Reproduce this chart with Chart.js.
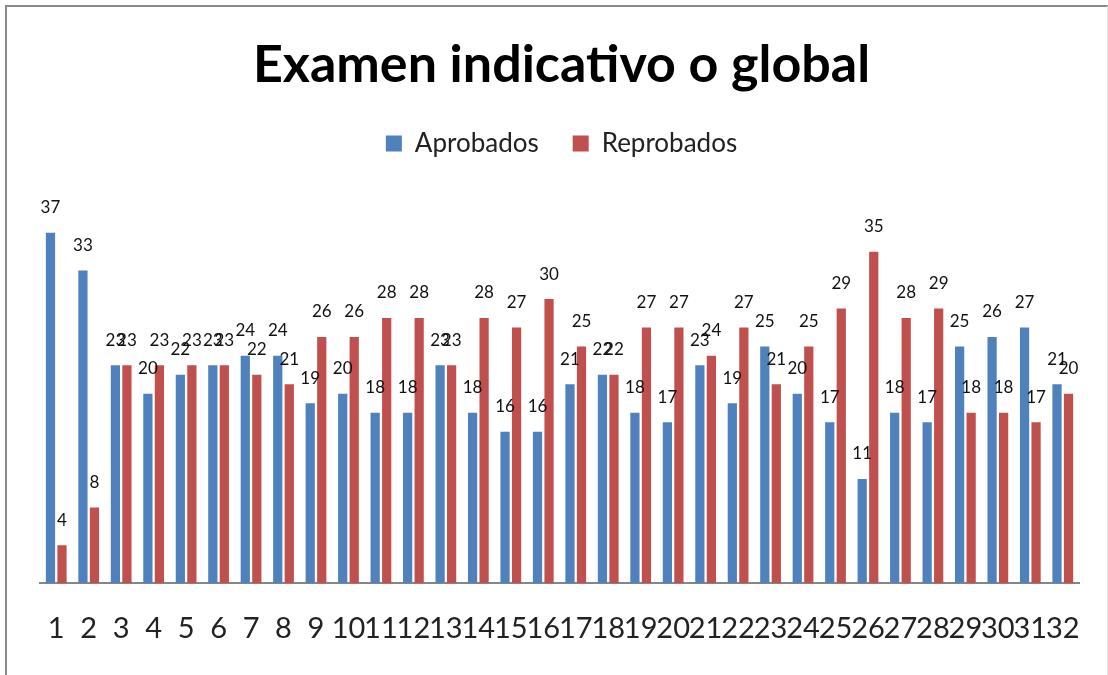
<!DOCTYPE html>
<html>
<head>
<meta charset="utf-8">
<script src="https://cdn.jsdelivr.net/npm/chart.js@4/dist/chart.umd.min.js"></script>
<style>
  body { margin: 0; background: #fff; }
  #marco { position: absolute; left: 5px; top: 5px; width: 1100px; height: 700px;
           border-left: 2px solid #8a8a8a; border-top: 2px solid #8a8a8a; border-right: 1px solid #e4e4e4; }
  canvas { position: absolute; left: 0; top: 0; }
</style>
</head>
<body>
<div id="marco"></div>
<canvas id="grafico" width="1108" height="675"></canvas>
<script>
const categorias = ['1','2','3','4','5','6','7','8','9','10','11','12','13','14','15','16',
                    '17','18','19','20','21','22','23','24','25','26','27','28','29','30','31','32'];
const aprobados  = [37,33,23,20,22,23,24,24,19,20,18,18,23,18,16,16,
                    21,22,18,17,23,19,25,20,17,11,18,17,25,26,27,21];
const reprobados = [4,8,23,23,23,23,22,21,26,26,28,28,23,28,27,30,
                    25,22,27,27,24,27,21,25,29,35,28,29,18,18,17,20];

// etiquetas de valor encima de cada barra
const etiquetas = {
    id: 'etiquetas',
    afterDatasetsDraw(chart) {
        const ctx = chart.ctx;
        ctx.save();
        ctx.font = '17px Lato';
        ctx.fillStyle = '#111';
        ctx.textAlign = 'center';
        ctx.textBaseline = 'middle';
        chart.data.datasets.forEach((ds, i) => {
            chart.getDatasetMeta(i).data.forEach((bar, j) => {
                ctx.fillText(ds.data[j], bar.x, bar.y - 25);
            });
        });
        ctx.restore();
    }
};

const ctx = document.getElementById('grafico').getContext('2d');
new Chart(ctx, {
    type: 'bar',
    data: {
        labels: categorias,
        datasets: [
            { label: 'Aprobados', data: aprobados, backgroundColor: '#4F81BD' },
            { label: 'Reprobados', data: reprobados, backgroundColor: '#C0504D' }
        ]
    },
    options: {
        responsive: false,
        animation: false,
        categoryPercentage: 0.71,
        barPercentage: 0.8,
        layout: { padding: { left: 40, right: 25, top: 0, bottom: 1 } },
        plugins: {
            title: {
                display: true,
                text: 'Examen indicativo o global',
                color: '#000',
                font: { family: 'Lato', size: 52, weight: 'bold' },
                padding: { top: 34, bottom: 0 }
            },
            legend: {
                position: 'top',
                labels: {
                    color: '#222',
                    font: { family: 'Lato', size: 26 },
                    boxWidth: 16,
                    boxHeight: 16,
                    padding: 34
                }
            },
            tooltip: { enabled: false }
        },
        scales: {
            x: {
                grid: { display: false, drawTicks: false },
                border: { display: true, color: '#868686', width: 2 },
                ticks: { color: '#222', font: { family: 'Lato', size: 29 }, padding: 28,
                         autoSkip: false, maxRotation: 0 }
            },
            y: {
                display: false,
                min: 0,
                max: 44
            }
        }
    },
    plugins: [etiquetas]
});
</script>
</body>
</html>
